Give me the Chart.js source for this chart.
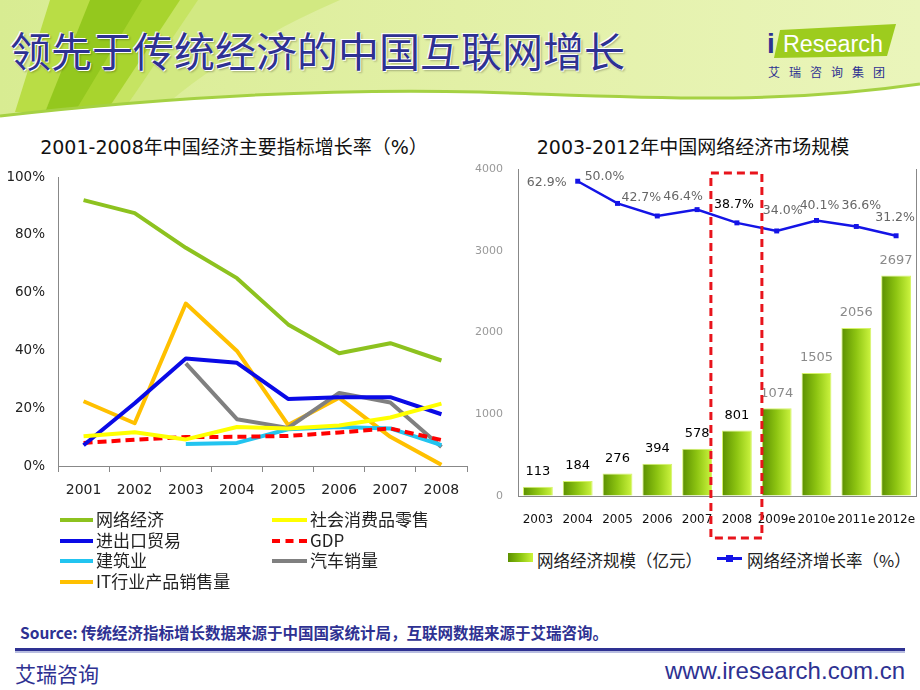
<!DOCTYPE html>
<html>
<head>
<meta charset="utf-8">
<script src="https://cdn.jsdelivr.net/npm/chart.js@4.4.0/dist/chart.umd.min.js"></script>
<style>
body{margin:0;width:920px;height:690px;position:relative;background:#fff;overflow:hidden;font-family:"Noto Sans CJK SC",sans-serif;}
.abs{position:absolute;}
#title{left:10px;top:29px;font-size:41px;line-height:41px;color:#2e3192;white-space:nowrap;text-shadow:1px 1px 0 #fff,-1px -1px 0 #fff,2px 2px 2px rgba(0,0,0,.25);}
.ctitle{top:137px;font-size:19px;line-height:20px;color:#111;text-align:center;white-space:nowrap;font-family:"DejaVu Sans","Noto Sans CJK SC",sans-serif;}
.lg{font-size:17px;line-height:20px;color:#222;white-space:nowrap;}
.mk{position:absolute;height:0;}
#src{left:20px;top:621px;font-size:15.5px;font-weight:bold;color:#2e3192;white-space:nowrap;}
#rule{left:15px;top:648px;width:890px;height:3px;background:#2e3192;border-bottom:2px solid #b8bde0;}
#foot1{left:15px;top:659px;font-size:21px;line-height:28px;color:#2e3192;}
#foot2{right:15px;top:657px;font-size:24px;line-height:28px;color:#2e3192;font-family:"Liberation Sans Narrow","Liberation Sans",sans-serif;}
</style>
</head>
<body>
<svg class="abs" style="left:0;top:0" width="920" height="125" viewBox="0 0 920 125">
  <defs>
    <linearGradient id="hb" x1="0" x2="1" y1="0" y2="0">
      <stop offset="0" stop-color="#d8ec92"/>
      <stop offset="0.5" stop-color="#e2f0a6"/>
      <stop offset="1" stop-color="#eaf5bb"/>
    </linearGradient>
  </defs>
  <rect width="920" height="125" fill="url(#hb)"/>
  <path d="M190,0 L340,0 C270,30 205,70 160,110 L125,110 Z" fill="#d2e982"/>
  <path d="M50,0 L95,0 L45,112 L15,112 Z" fill="#b9dd45"/>
  <path d="M90,0 L150,0 L80,110 L45,112 Z" fill="#94c81e"/>
  <path d="M142,0 L182,0 L112,106 L76,110 Z" fill="#a8d42e"/>
  <path d="M180,0 L198,0 L128,104 L110,106 Z" fill="#c6e462"/>
  <path d="M0,116 C160,98 320,88 480,92 C640,97 770,106 920,84 L920,125 L0,125 Z" fill="#fff"/>
  <path d="M0,116 C160,98 320,88 480,92 C640,97 770,106 920,84" fill="none" stroke="#a5d143" stroke-width="3"/>
</svg>
<div id="title" class="abs">领先于传统经济的中国互联网增长</div>
<svg class="abs" style="left:760px;top:18px" width="150" height="70">
  <polygon points="20,12 136,6 127,38 14,40" fill="#9dcc1e"/>
  <text x="7" y="35" font-family="Liberation Sans" font-size="28" font-weight="bold" fill="#2e3192">i</text>
  <text x="23" y="34" font-family="Liberation Sans" font-size="23" fill="#fff" textLength="100" lengthAdjust="spacingAndGlyphs">Research</text>
</svg>
<div class="abs" style="left:768px;top:64px;font-size:12px;line-height:16px;letter-spacing:9px;color:#2e3192;">艾瑞咨询集团</div>

<div class="abs ctitle" style="left:0;width:468px;">2001-2008年中国经济主要指标增长率（%）</div>
<div class="abs ctitle" style="left:470px;width:446px;">2003-2012年中国网络经济市场规模</div>

<canvas id="left" class="abs" style="left:0;top:160px" width="470" height="345"></canvas>
<canvas id="right" class="abs" style="left:470px;top:160px" width="450" height="385"></canvas>
<div id="leftLegend"></div>

<div class="abs" style="left:508px;top:553px;width:25px;height:9px;background:linear-gradient(90deg,#5c9000,#8cc510,#ccf43c);"></div>
<div class="abs lg" style="left:537px;top:550px;font-size:16.5px;">网络经济规模（亿元）</div>
<div class="abs" style="left:717px;top:557px;width:25px;height:2.5px;background:#1414e6;"></div>
<div class="abs" style="left:726px;top:555px;width:7px;height:7px;background:#1414e6;"></div>
<div class="abs lg" style="left:747px;top:550px;font-size:16.5px;">网络经济增长率（%）</div>

<div id="src" class="abs">Source: 传统经济指标增长数据来源于中国国家统计局，互联网数据来源于艾瑞咨询。</div>
<div id="rule" class="abs"></div>
<div id="foot1" class="abs">艾瑞咨询</div>
<div id="foot2" class="abs">www.iresearch.com.cn</div>

<script>
// left chart: growth rates of main indicators, %
var years = ['2001', '2002', '2003', '2004', '2005', '2006', '2007', '2008'];
var netEcon = [92, 87.5, 75.5, 65, 49, 39, 42.5, 36.5];
var retail = [10.3, 11.7, 9.2, 13.5, 13, 14, 16.8, 21.6];
var trade = [7.2, 21.7, 37.2, 35.7, 23.2, 23.8, 23.8, 17.9];
var gdp = [8, 9.1, 10, 10.1, 10.4, 11.6, 13, 9];
var construction = [null, null, 7.6, 8, 12.7, 13.5, 13, 7.2];
var autoSales = [null, null, 35.5, 16.2, 13.2, 25.3, 22, 6.6];
var itSales = [22.4, 14.8, 56.2, 39.8, 14.2, 23.6, 10.1, 0.4];

// right chart: market size (100M yuan) and growth rate (%)
var marketYears = ['2003', '2004', '2005', '2006', '2007', '2008', '2009e', '2010e', '2011e', '2012e'];
var marketSize = [113, 184, 276, 394, 578, 801, 1074, 1505, 2056, 2697];
var growthRate = [null, 62.9, 50.0, 42.7, 46.4, 38.7, 34.0, 40.1, 36.6, 31.2];
var yTicksLeft = [0, 20, 40, 60, 80, 100];
var yTicksRight = [0, 1000, 2000, 3000, 4000];

var leftSets = [
	{label: '网络经济', data: netEcon, borderColor: '#8dc21f'},
	{label: '社会消费品零售', data: retail, borderColor: '#ffff00'},
	{label: '进出口贸易', data: trade, borderColor: '#0a0ae6'},
	{label: 'GDP', data: gdp, borderColor: '#ff0000', borderDash: [9, 5]},
	{label: '建筑业', data: construction, borderColor: '#22c4f0'},
	{label: '汽车销量', data: autoSales, borderColor: '#808080'},
	{label: 'IT行业产品销售量', data: itSales, borderColor: '#ffc000'}
];

// legend for the left chart, two columns
var lg = document.getElementById('leftLegend');
leftSets.forEach(function(ds, i) {
	var col = i % 2, row = Math.floor(i / 2);
	var lx = col ? 272 : 60, ly = 520 + row * 20.5;
	var m = document.createElement('div');
	m.className = 'mk';
	m.style.left = lx + 'px';
	m.style.top = (ly - 2) + 'px';
	m.style.width = (col ? 35 : 33) + 'px';
	m.style.borderTop = '4px ' + (ds.borderDash ? 'dashed ' : 'solid ') + ds.borderColor;
	lg.appendChild(m);
	var t = document.createElement('div');
	t.className = 'abs lg';
	t.style.left = (lx + (col ? 38 : 36)) + 'px';
	t.style.top = (ly - 11) + 'px';
	t.textContent = ds.label;
	lg.appendChild(t);
});

var numFont = 'DejaVu Sans';

// keep the plot area where the slide has it
function fixW(w) { return function(s) { s.width = w; s.paddingTop = 0; s.paddingBottom = 0; }; }
function fixH(h) { return function(s) { s.height = h; s.paddingLeft = 0; s.paddingRight = 0; }; }

new Chart(document.getElementById('left'), {
	type: 'line',
	data: {labels: years, datasets: leftSets},
	options: {
		responsive: false,
		animation: false,
		layout: {padding: {top: 17, right: 3, left: 0, bottom: 0}},
		plugins: {legend: {display: false}, tooltip: {enabled: false}},
		elements: {
			point: {radius: 0},
			line: {borderWidth: 4, tension: 0, borderJoinStyle: 'round'}
		},
		scales: {
			x: {
				offset: true,
				grid: {offset: true, drawOnChartArea: false, tickLength: 6, color: '#888'},
				border: {color: '#888'},
				ticks: {color: '#222', font: {size: 14, family: numFont}, padding: 10},
				afterFit: fixH(39)
			},
			y: {
				min: 0, max: 100,
				afterBuildTicks: function(s) { s.ticks = yTicksLeft.map(function(v) { return {value: v}; }); },
				ticks: {color: '#222', font: {size: 13.5, family: numFont}, padding: 13,
					callback: function(v) { return v + '%'; }},
				grid: {drawOnChartArea: false, drawTicks: false},
				border: {color: '#888'},
				afterFit: fixW(58)
			}
		}
	}
});

function barFill(c) {
	var ch = c.chart, sx = ch.scales.x;
	if (!sx || c.type !== 'data') return '#8ec512';
	var x = sx.getPixelForValue(c.dataIndex);
	if (!isFinite(x)) return '#8ec512';
	var g = ch.ctx.createLinearGradient(x - 15, 0, x + 15, 0);
	g.addColorStop(0, '#5a8e00');
	g.addColorStop(0.5, '#8ec512');
	g.addColorStop(1, '#cdf540');
	return g;
}

// where each growth label sits relative to its point
var growthShift = [[0, 0], [-31, 2], [-13, -27], [-16, -18], [-14, -13], [-3, -18], [6, -20], [3, -15], [5, -21], [-1, -18]];

var labelPlugin = {
	id: 'labels',
	afterDatasetsDraw: function(chart) {
		var ctx = chart.ctx;
		ctx.save();
		ctx.textAlign = 'center';
		ctx.textBaseline = 'middle';
		var bars = chart.getDatasetMeta(1).data;
		ctx.font = '13px ' + numFont;
		bars.forEach(function(b, i) {
			ctx.fillStyle = i < 6 ? '#000' : '#8a8a8a';
			ctx.fillText(marketSize[i], b.x, b.y - 15);
		});
		var pts = chart.getDatasetMeta(0).data;
		ctx.font = '12.5px ' + numFont;
		pts.forEach(function(p, i) {
			if (growthRate[i] === null) return;
			ctx.fillStyle = i === 5 ? '#000' : '#666';
			ctx.fillText(growthRate[i].toFixed(1) + '%', p.x + growthShift[i][0], p.y + growthShift[i][1]);
		});
		ctx.restore();
	},
	afterDraw: function(chart) {
		// dashed box marking 2008
		var ctx = chart.ctx, x = chart.scales.x.getPixelForValue(5);
		ctx.save();
		ctx.strokeStyle = '#e8141c';
		ctx.lineWidth = 3;
		ctx.setLineDash([8, 5]);
		ctx.strokeRect(x - 26, 13, 51, 365);
		ctx.restore();
	}
};

new Chart(document.getElementById('right'), {
	data: {
		labels: marketYears,
		datasets: [
			{
				type: 'line',
				label: '网络经济增长率（%）',
				data: growthRate,
				yAxisID: 'y1',
				borderColor: '#1414e6',
				borderWidth: 2.5,
				tension: 0,
				pointStyle: 'rect',
				pointRadius: 3.5,
				pointBorderWidth: 0,
				pointBackgroundColor: '#1414e6'
			},
			{
				type: 'bar',
				label: '网络经济规模（亿元）',
				data: marketSize,
				yAxisID: 'y',
				backgroundColor: barFill,
				borderColor: '#d6f36a',
				borderWidth: 1,
				barPercentage: 0.75,
				categoryPercentage: 1
			}
		]
	},
	options: {
		responsive: false,
		animation: false,
		layout: {padding: {top: 9, right: 0, left: 0, bottom: 0}},
		plugins: {legend: {display: false}, tooltip: {enabled: false}},
		scales: {
			x: {
				grid: {drawOnChartArea: false, drawTicks: false},
				border: {color: '#888'},
				ticks: {color: '#111', font: {size: 12, family: numFont}, padding: 17,
					maxRotation: 0, minRotation: 0, autoSkip: false},
				afterFit: fixH(49)
			},
			y: {
				min: 0, max: 4000,
				afterBuildTicks: function(s) { s.ticks = yTicksRight.map(function(v) { return {value: v}; }); },
				ticks: {color: '#999', font: {size: 11, family: numFont}, padding: 15,
					callback: function(v) { return String(v); }},
				grid: {drawOnChartArea: false, drawTicks: false},
				border: {color: '#888'},
				afterFit: fixW(48)
			},
			y1: {
				position: 'right',
				min: -120, max: 70,
				ticks: {display: false},
				grid: {drawOnChartArea: false, drawTicks: false},
				border: {color: '#888'},
				afterFit: fixW(4)
			}
		}
	},
	plugins: [labelPlugin]
});
</script>
</body>
</html>
